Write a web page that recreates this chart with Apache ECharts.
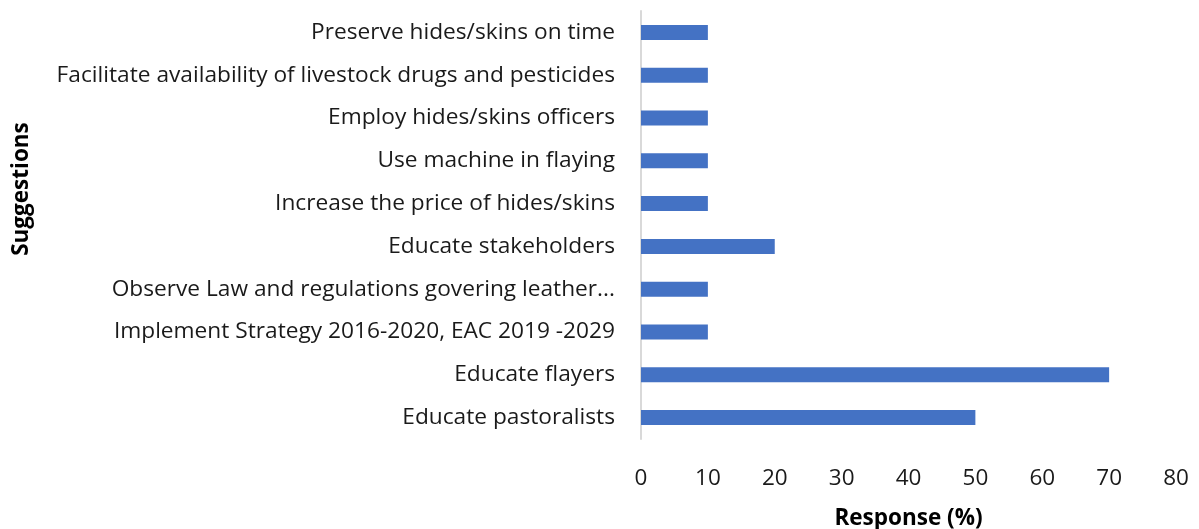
<!DOCTYPE html>
<html>
<head>
<meta charset="utf-8">
<style>
  html, body { margin: 0; padding: 0; background: #fff; }
  #chart { width: 1199px; height: 529px; }
</style>
<script src="https://cdn.jsdelivr.net/npm/echarts@6/dist/echarts.min.js"></script>
</head>
<body>
<div id="chart"></div>
<script>
// Suggestions, listed top to bottom
const suggestions = [
  'Preserve hides/skins on time',
  'Facilitate availability of livestock drugs and pesticides',
  'Employ hides/skins officers',
  'Use machine in flaying',
  'Increase the price of hides/skins',
  'Educate stakeholders',
  'Observe Law and regulations govering leather...',
  'Implement Strategy 2016-2020, EAC 2019 -2029',
  'Educate flayers',
  'Educate pastoralists'
];
// Share of respondents (%)
const responses = [10, 10, 10, 10, 10, 20, 10, 10, 70, 50];
// Response axis range
const xMin = 0, xMax = 80, xStep = 10;

const FONT = '"Open Sans", "Noto Sans", sans-serif';
const chart = echarts.init(document.getElementById('chart'));
chart.setOption({
  animation: false,
  textStyle: { fontFamily: FONT },
  grid: {
    left: 641, right: 23, top: 11, bottom: 90,
    containLabel: false,
    outerBoundsMode: 'none'
  },
  xAxis: {
    type: 'value',
    min: xMin, max: xMax, interval: xStep,
    axisLine: { show: false },
    axisTick: { show: false },
    splitLine: { show: false },
    axisLabel: { color: '#1a1a1a', fontSize: 22.5, fontFamily: FONT, margin: 28 },
    name: 'Response (%)',
    nameLocation: 'middle',
    nameGap: 68,
    nameTextStyle: { color: '#000', fontSize: 22.5, fontWeight: 'bold', fontFamily: FONT }
  },
  yAxis: {
    type: 'category',
    inverse: true,
    data: suggestions,
    axisLine: { show: true, lineStyle: { color: '#d9d9d9', width: 2 } },
    axisTick: { show: false },
    axisLabel: { color: '#1a1a1a', fontSize: 22.7, fontFamily: FONT, margin: 26 }
  },
  graphic: [{
    type: 'text',
    x: 22,
    y: 189,
    rotation: Math.PI / 2,
    style: {
      text: 'Suggestions',
      fill: '#000',
      font: 'bold 22.5px ' + FONT,
      align: 'center',
      verticalAlign: 'middle'
    }
  }],
  series: [{
    type: 'bar',
    data: responses,
    barWidth: 15,
    itemStyle: { color: '#4472C4' }
  }]
});
</script>
</body>
</html>
